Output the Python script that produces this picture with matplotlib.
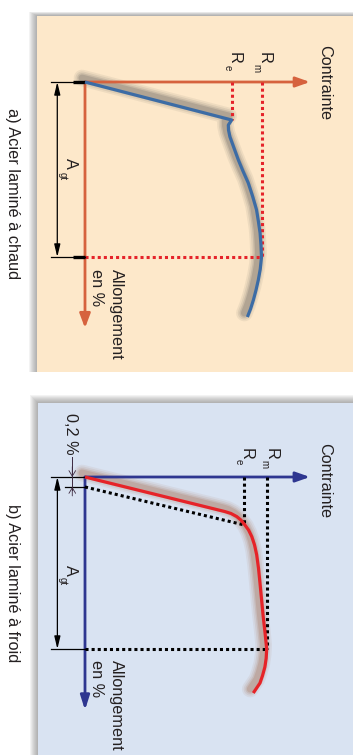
import matplotlib
matplotlib.use('Agg')
import matplotlib.pyplot as plt
from matplotlib.patches import Rectangle
from matplotlib.transforms import offset_copy

plt.rcParams['font.family'] = ['Liberation Sans', 'DejaVu Sans']

# ---------------- data (stress normalised to Rm, strain normalised to Agt) ----------------
# a) hot rolled steel
hot_stress = [0, 0.831, 0.812, 0.813, 0.821, 0.844, 0.869, 0.895, 0.925, 0.949, 0.972,
              0.982, 0.992, 0.997, 1.0, 0.993, 0.982, 0.969, 0.954, 0.938, 0.920]
hot_strain = [0, 0.217, 0.246, 0.274, 0.313, 0.377, 0.446, 0.509, 0.577, 0.651, 0.731,
              0.794, 0.863, 0.931, 1.0, 1.069, 1.131, 1.189, 1.246, 1.297, 1.343]
hot_Re = 0.831
hot_Re_strain = 0.217
hot_Rm = 1.0
hot_Agt = 1.0

# b) cold rolled steel
cold_stress = [0, 0.770, 0.803, 0.835, 0.858, 0.880, 0.900, 0.918, 0.933, 0.945, 0.955,
               0.963, 0.972, 0.981, 0.991, 1.0, 0.997, 0.990, 0.977, 0.963, 0.926]
cold_strain = [0, 0.201, 0.212, 0.230, 0.250, 0.279, 0.308, 0.347, 0.395, 0.453, 0.532,
               0.616, 0.715, 0.814, 0.907, 1.0, 1.055, 1.105, 1.155, 1.198, 1.256]
cold_Re = 0.877
cold_Re_strain = 0.279
cold_Rm = 1.0
cold_Agt = 1.0
cold_offset = 0.058

titles = ['a) Acier laminé à chaud', 'b) Acier laminé à froid']
stress_label = 'Contrainte'
strain_label = ['Allongement', 'en %']
offset_label = '0,2 %'

TXT = '#231F20'
FS = 11.7
SUB = 7

W, H = 360, 755
fig = plt.figure(figsize=(W / 100, H / 100), dpi=100)


def panel(rect, origin, scale, bg, shadow):
    x0, y0, x1, y1 = rect
    ox, oy = origin
    sx, sy = scale
    dx, dy = shadow
    n = 8
    for i in range(1, n + 1):
        fx = x0 - dx * i / n
        fy = y0 - dy * i / n
        fig.add_artist(Rectangle((fx / W, 1 - y1 / H), (x1 - fx) / W, (y1 - fy) / H,
                                 transform=fig.transFigure, facecolor='#5a5a5a',
                                 edgecolor='none', alpha=0.07, zorder=-5))
    ax = fig.add_axes([x0 / W, 1 - y1 / H, (x1 - x0) / W, (y1 - y0) / H])
    ax.set_xlim((x0 - ox) / sx, (x1 - ox) / sx)
    ax.set_ylim((y1 - oy) / sy, (y0 - oy) / sy)
    ax.set_axis_off()
    ax.add_patch(Rectangle((0, 0), 1, 1, transform=ax.transAxes, facecolor=bg,
                           edgecolor='none', zorder=0))
    return ax


def arrow(ax, start, end, color, lw=2.0, style='-|>', hl=0.85, hw=0.3, ms=10, z=3):
    ax.annotate('', xy=end, xytext=start, annotation_clip=False,
                arrowprops=dict(arrowstyle=f'{style},head_length={hl},head_width={hw}',
                                color=color, lw=lw, shrinkA=0, shrinkB=0,
                                mutation_scale=ms), zorder=z)


def vtext(ax, s, x, y, size=FS, ha='left'):
    ax.text(x, y, s, rotation=-90, rotation_mode='anchor', ha=ha, va='baseline',
            fontsize=size, color=TXT, zorder=6)


def curve(ax, xs, ys, color, shadow_color):
    tr = offset_copy(ax.transData, fig, x=-3, y=4, units='dots')
    for lw_, a in [(12, 0.08), (9.5, 0.10), (7, 0.14), (5, 0.18)]:
        ax.plot(xs, ys, color=shadow_color, lw=lw_, alpha=a, transform=tr,
                solid_capstyle='round', solid_joinstyle='round', zorder=2)
    ax.plot(xs, ys, color=color, lw=2.3, zorder=4, solid_capstyle='butt',
            solid_joinstyle='round')


# ================= panel a =================
axA = panel((37, 16, 353, 372), (85, 82), (176.5, 175), '#FDE8CA', (8, 4))
ORANGE = '#D6623E'
RED_DOT = '#E5232A'
curve(axA, hot_stress, hot_strain, '#3C6CA5', '#4a4a4a')
arrow(axA, (0, 0), (1.275, 0), ORANGE)
arrow(axA, (0, 0), (0, 1.406), ORANGE, hw=0.32)
dot = dict(ls=(0, (1, 1)), lw=2.2, color=RED_DOT, zorder=3)
axA.plot([hot_Rm, hot_Rm], [0, hot_Agt], **dot)
axA.plot([hot_Re, hot_Re], [0, hot_Re_strain], **dot)
axA.plot([0, hot_Rm], [hot_Agt, hot_Agt], **dot)
for e in (0, hot_Agt):
    axA.plot([-0.193, 0], [e, e], color='black', lw=0.9, zorder=3)
    axA.plot([-0.068, 0], [e, e], color='black', lw=2.4, zorder=3, solid_capstyle='butt')
arrow(axA, (-0.157, hot_Agt), (-0.157, 0), 'black', lw=0.9, style='<|-|>', hl=0.75, hw=0.18)
vtext(axA, stress_label, 1.331, 0.003, ha='center')
vtext(axA, 'R', 0.989, -0.170)
vtext(axA, 'm', 0.952, -0.103, size=SUB)
vtext(axA, 'R', 0.822, -0.170)
vtext(axA, 'e', 0.793, -0.097, size=SUB)
vtext(axA, 'A', -0.110, 0.434)
vtext(axA, 'gt', -0.142, 0.514, size=SUB)
vtext(axA, strain_label[0], 0.153, 1.070)
vtext(axA, strain_label[1], 0.040, 1.070)
vtext(axA, titles[0], -0.436, 0.637, ha='center')

# ================= panel b =================
axB = panel((38, 403, 353, 755), (85, 477), (181.7, 172), '#D9E3F2', (8, 8))
NAVY = '#2E3690'
curve(axB, cold_stress, cold_strain, '#E62328', '#9A5A3A')
arrow(axB, (0, 0), (1.238, 0), NAVY)
arrow(axB, (0, 0), (0, 1.355), NAVY, hw=0.27)
dotk = dict(ls=(0, (1, 1)), lw=2.2, color='black', zorder=3)
axB.plot([cold_Rm, cold_Rm], [0, cold_Agt], **dotk)
axB.plot([cold_Re, cold_Re], [0, cold_Re_strain], **dotk)
axB.plot([0, cold_Rm], [cold_Agt, cold_Agt], **dotk)
axB.plot([0, cold_Re], [cold_offset, cold_Re_strain], **dotk)
axB.plot([-0.187, 0], [0, 0], color='black', lw=0.9, zorder=3)
axB.plot([-0.187, 0], [cold_Agt, cold_Agt], color='black', lw=0.9, zorder=3)
axB.plot([-0.110, 0], [cold_offset, cold_offset], color='black', lw=0.9, zorder=3)
arrow(axB, (-0.152, cold_Agt), (-0.152, 0), 'black', lw=0.9, style='<|-|>', hl=0.75, hw=0.18)
# 0,2 % marker
PURP = '#3D2A40'
axB.plot([-0.070, -0.070], [-0.116, 0.075], color=PURP, lw=0.7, zorder=3)
arrow(axB, (-0.070, -0.06), (-0.070, 0), PURP, lw=0.6, style='->', hl=0.5, hw=0.3, ms=8)
arrow(axB, (-0.070, 0.11), (-0.070, cold_offset), PURP, lw=0.6, style='->', hl=0.5, hw=0.3, ms=8)
vtext(axB, offset_label, -0.105, -0.372)
vtext(axB, stress_label, 1.293, 0.020, ha='center')
vtext(axB, 'R', 1.002, -0.169)
vtext(axB, 'm', 0.969, -0.099, size=SUB)
vtext(axB, 'R', 0.864, -0.169)
vtext(axB, 'e', 0.828, -0.105, size=SUB)
vtext(axB, 'A', -0.107, 0.512)
vtext(axB, 'gt', -0.138, 0.581, size=SUB)
vtext(axB, strain_label[0], 0.149, 1.064)
vtext(axB, strain_label[1], 0.0385, 1.064)
vtext(axB, titles[1], -0.424, 0.616, ha='center')

fig.savefig('out.png', dpi=100)
